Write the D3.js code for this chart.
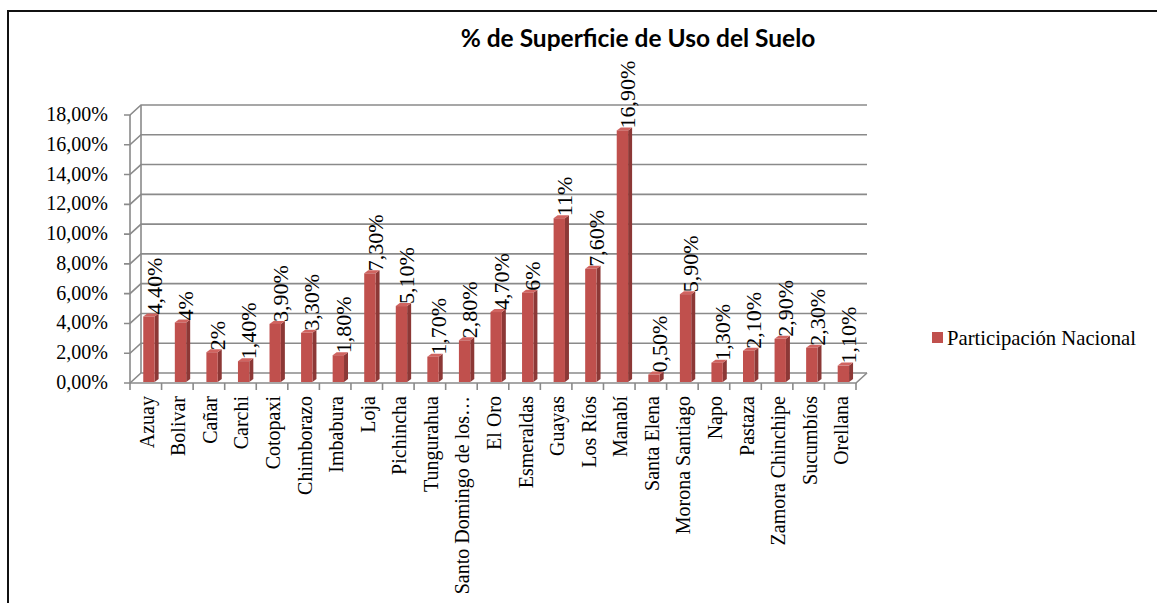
<!DOCTYPE html>
<html><head><meta charset="utf-8">
<script src="https://cdn.jsdelivr.net/npm/d3@7"></script>
<style>body{margin:0;background:#fff}svg{display:block}</style>
</head><body><svg id="c" width="1157" height="603"></svg>
<script>
const categories = ["Azuay","Bolivar","Cañar","Carchi","Cotopaxi","Chimborazo","Imbabura","Loja","Pichincha","Tungurahua","Santo Domingo de los…","El Oro","Esmeraldas","Guayas","Los Ríos","Manabí","Santa Elena","Morona Santiago","Napo","Pastaza","Zamora Chinchipe","Sucumbíos","Orellana"];
const values = [0.044,0.04,0.02,0.014,0.039,0.033,0.018,0.073,0.051,0.017,0.028,0.047,0.06,0.11,0.076,0.169,0.005,0.059,0.013,0.021,0.029,0.023,0.011];
const valueLabels = ["4,40%","4%","2%","1,40%","3,90%","3,30%","1,80%","7,30%","5,10%","1,70%","2,80%","4,70%","6%","11%","7,60%","16,90%","0,50%","5,90%","1,30%","2,10%","2,90%","2,30%","1,10%"];
const yTicks = [0,0.02,0.04,0.06,0.08,0.10,0.12,0.14,0.16,0.18];
const yTickLabels = ["0,00%","2,00%","4,00%","6,00%","8,00%","10,00%","12,00%","14,00%","16,00%","18,00%"];
const seriesName = "Participación Nacional";
const title = "% de Superficie de Uso del Suelo";

const svg = d3.select("#c");
const serif = "'Liberation Serif','Times New Roman',serif";
const grid = "#8a8a8a";
const DX = 11, DY = -10;

const x = d3.scaleBand().domain(categories).range([130, 856]).padding(0);
const y = d3.scaleLinear().domain([0, 0.18]).range([383, 115]);

// border
svg.append("rect").attr("x",8).attr("y",11).attr("width",1200).attr("height",700)
  .attr("fill","none").attr("stroke","#111").attr("stroke-width",2);

// title
svg.append("text").attr("x",638).attr("y",47).attr("text-anchor","middle")
  .attr("font-family","Lato,'Open Sans',sans-serif").attr("font-weight","bold")
  .attr("font-size",24.5).attr("fill","#000").text(title);

const g = svg.append("g");
const x0 = x.range()[0], x1 = x.range()[1];

// gridlines (back wall + side wall)
yTicks.forEach((t,i)=>{
  const yy = y(t);
  g.append("path").attr("d",`M${x0-6},${yy}H${x0}L${x0+DX},${yy+DY}H${x1+DX}`)
    .attr("fill","none").attr("stroke",grid).attr("stroke-width",1.6);
  g.append("text").attr("x",108).attr("y",yy+6).attr("text-anchor","end")
    .attr("font-family",serif).attr("font-size",20).attr("fill","#000").text(yTickLabels[i]);
});
// axis verticals
g.append("path").attr("d",`M${x0},${y(0)}V${y(0.18)}`).attr("stroke",grid).attr("stroke-width",1.6);
g.append("path").attr("d",`M${x0+DX},${y(0)+DY}V${y(0.18)+DY}`).attr("stroke",grid).attr("stroke-width",1.6);
// floor
g.append("path").attr("d",`M${x0},${y(0)}H${x1}L${x1+DX},${y(0)+DY}`)
  .attr("fill","none").attr("stroke",grid).attr("stroke-width",1.6);
// category ticks
categories.concat([null]).forEach((c,i)=>{
  const xx = c ? x(c) : x1;
  g.append("line").attr("x1",xx).attr("x2",xx).attr("y1",y(0)).attr("y2",y(0)+7)
    .attr("stroke",grid).attr("stroke-width",1.6);
});

// bars
const bw = x.bandwidth();
const sd = 4, sh = -3;
categories.forEach((c,i)=>{
  const v = values[i];
  const lx = x(c) + bw*0.42, rx = lx + bw*0.36;
  const top = y(v) - 1, base = y(0) - 1;
  g.append("path").attr("d",`M${rx},${base}V${top}L${rx+sd},${top+sh}V${base+sh}Z`).attr("fill","#8c3836");
  g.append("path").attr("d",`M${lx},${top}L${lx+sd},${top+sh}H${rx+sd}L${rx},${top}Z`).attr("fill","#d06460");
  g.append("rect").attr("x",lx).attr("y",top).attr("width",rx-lx).attr("height",base-top).attr("fill","#c0504d");
  const cx = (lx+rx+sd)/2 + 3;
  g.append("text").attr("transform",`translate(${cx},${top-2}) rotate(-90)`)
    .attr("dy","0.35em").attr("text-anchor","start")
    .attr("font-family",serif).attr("font-size",22).attr("fill","#000").text(valueLabels[i]);
  g.append("text").attr("transform",`translate(${x(c)+bw/2+1},${y(0)+13}) rotate(-90)`)
    .attr("dy","0.35em").attr("text-anchor","end")
    .attr("font-family",serif).attr("font-size",20).attr("fill","#000").text(c);
});

// legend
svg.append("rect").attr("x",932).attr("y",332).attr("width",11).attr("height",11).attr("fill","#c0504d");
svg.append("text").attr("x",947).attr("y",345).attr("font-family",serif).attr("font-size",20.7)
  .attr("fill","#000").text(seriesName);
</script></body></html>
